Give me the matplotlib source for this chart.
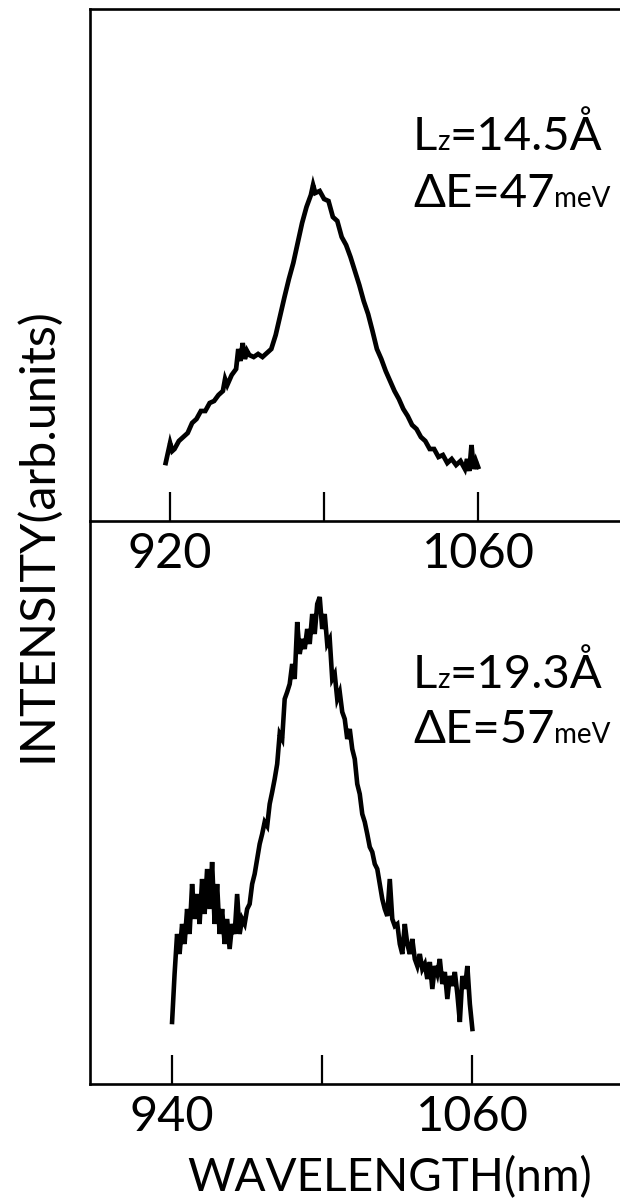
import matplotlib
matplotlib.use("Agg")
import matplotlib.pyplot as plt

# ---------------- data ----------------
# top panel: Lz = 14.5 A
top_wl = [918, 920, 921, 922, 924, 926, 928, 930, 932, 934, 936, 938, 940, 942, 944, 945,
          946, 948, 950, 951, 952, 953, 954, 955, 956, 958, 960, 962, 964, 966, 968, 970,
          972, 974, 976, 978, 980, 982, 984, 985, 986, 988, 990, 992, 994, 996, 998, 1000,
          1002, 1004, 1006, 1008, 1010, 1012, 1014, 1016, 1018, 1020, 1022, 1024, 1026,
          1028, 1030, 1032, 1034, 1036, 1038, 1040, 1042, 1044, 1046, 1048, 1050, 1052,
          1054, 1055, 1056, 1057, 1058, 1059, 1060]
top_int = [0.58, 0.78, 0.70, 0.72, 0.80, 0.84, 0.88, 0.98, 1.02, 1.10, 1.10, 1.18, 1.20,
           1.26, 1.30, 1.42, 1.36, 1.46, 1.52, 1.72, 1.60, 1.78, 1.62, 1.70, 1.66, 1.64,
           1.67, 1.64, 1.68, 1.72, 1.86, 2.05, 2.24, 2.42, 2.58, 2.78, 2.98, 3.14, 3.26,
           3.36, 3.28, 3.30, 3.22, 3.20, 3.04, 3.00, 2.84, 2.76, 2.64, 2.50, 2.36, 2.20,
           2.07, 1.90, 1.72, 1.62, 1.50, 1.40, 1.30, 1.22, 1.12, 1.05, 0.96, 0.92, 0.84,
           0.80, 0.72, 0.72, 0.64, 0.66, 0.58, 0.62, 0.56, 0.60, 0.52, 0.62, 0.50, 0.76,
           0.52, 0.60, 0.54]

# bottom panel: Lz = 19.3 A
bot_wl = list(range(940, 1061))
bot_int = [0.62, 1.10, 1.50, 1.30, 1.60, 1.40, 1.75, 1.50, 2.00, 1.65, 1.90, 1.60, 2.05,
           1.70, 2.15, 1.75, 2.22, 1.60, 2.00, 1.50, 1.75, 1.40, 1.65, 1.35, 1.60, 1.50,
           1.90, 1.50, 1.65, 1.60, 1.75, 1.80, 2.00, 2.10, 2.25, 2.40, 2.50, 2.62, 2.58,
           2.80, 2.92, 3.05, 3.20, 3.50, 3.45, 3.85, 3.92, 4.00, 4.20, 4.05, 4.62, 4.30,
           4.45, 4.35, 4.55, 4.40, 4.70, 4.50, 4.80, 4.87, 4.55, 4.70, 4.40, 4.45, 4.05,
           4.10, 3.85, 3.92, 3.72, 3.65, 3.45, 3.55, 3.35, 3.25, 3.00, 2.90, 2.70, 2.62,
           2.50, 2.37, 2.32, 2.20, 2.15, 2.00, 1.85, 1.75, 1.68, 2.05, 1.65, 1.58, 1.60,
           1.40, 1.30, 1.60, 1.40, 1.30, 1.45, 1.25, 1.18, 1.30, 1.15, 1.20, 1.05, 1.22,
           0.95, 1.18, 1.10, 1.25, 1.00, 1.12, 0.85, 1.08, 0.98, 1.12, 0.90, 0.62, 1.08,
           0.95, 1.18, 0.80, 0.55]

top_ticks = [920, 990, 1060]
top_ticklabels = ["920", "", "1060"]
bot_ticks = [940, 1000, 1060]
bot_ticklabels = ["940", "", "1060"]

top_lz = "14.5Å"
top_de = "47"
bot_lz = "19.3Å"
bot_de = "57"

# ---------------- figure ----------------
W, H = 620, 1203
FAM = ["Lato", "DejaVu Sans"]
plt.rcParams["font.family"] = FAM

fig = plt.figure(figsize=(W / 100, H / 100), dpi=100)
fig.patch.set_facecolor("white")

ax1 = fig.add_axes([90 / W, (H - 521) / H, 530 / W, 512.5 / H])
ax2 = fig.add_axes([90 / W, (H - 1084) / H, 530 / W, 563 / H])

ax1.plot(top_wl, top_int, color="black", lw=3.4, solid_joinstyle="miter")
ax2.plot(bot_wl, bot_int, color="black", lw=3.3, solid_joinstyle="miter")

ax1.set_xlim(883.6, 1124.5)
ax1.set_ylim(0, 5.125)
ax2.set_xlim(907.2, 1119.0)
ax2.set_ylim(0, 5.63)

for ax, ticks, labels in [(ax1, top_ticks, top_ticklabels), (ax2, bot_ticks, bot_ticklabels)]:
    ax.set_xticks(ticks)
    ax.set_xticklabels(labels)
    ax.set_yticks([])
    ax.tick_params(axis="x", direction="in", length=21, width=1.6, labelsize=35,
                   pad=8, colors="black")
    ax.spines["right"].set_visible(False)
    for s in ["left", "bottom", "top"]:
        ax.spines[s].set_linewidth(1.9)
        ax.spines[s].set_color("black")
    ax.set_facecolor("none")
ax2.spines["top"].set_visible(False)

# axis titles
fig.text(390 / W, (H - 1191) / H, "WAVELENGTH(nm)", fontsize=33, ha="center",
         va="baseline")
fig.text(37 / W, (H - 535) / H, "INTENSITY(arb.units)", fontsize=35, ha="center",
         va="center", rotation=90)

# compound annotations
renderer = fig.canvas.get_renderer()


def compound(x_px, base_px, parts):
    x = x_px
    for s, size in parts:
        t = fig.text(x / W, (H - base_px) / H, s, fontsize=size, ha="left",
                     va="baseline")
        bb = t.get_window_extent(renderer=renderer)
        x += bb.width


compound(413, 150, [("L", 34), ("z", 20), ("=" + top_lz, 34)])
compound(413, 207, [("ΔE=" + top_de, 34), ("meV", 20)])
compound(413, 688, [("L", 34), ("z", 20), ("=" + bot_lz, 34)])
compound(413, 743, [("ΔE=" + bot_de, 34), ("meV", 20)])

fig.savefig("out.png", dpi=100, facecolor="white")
